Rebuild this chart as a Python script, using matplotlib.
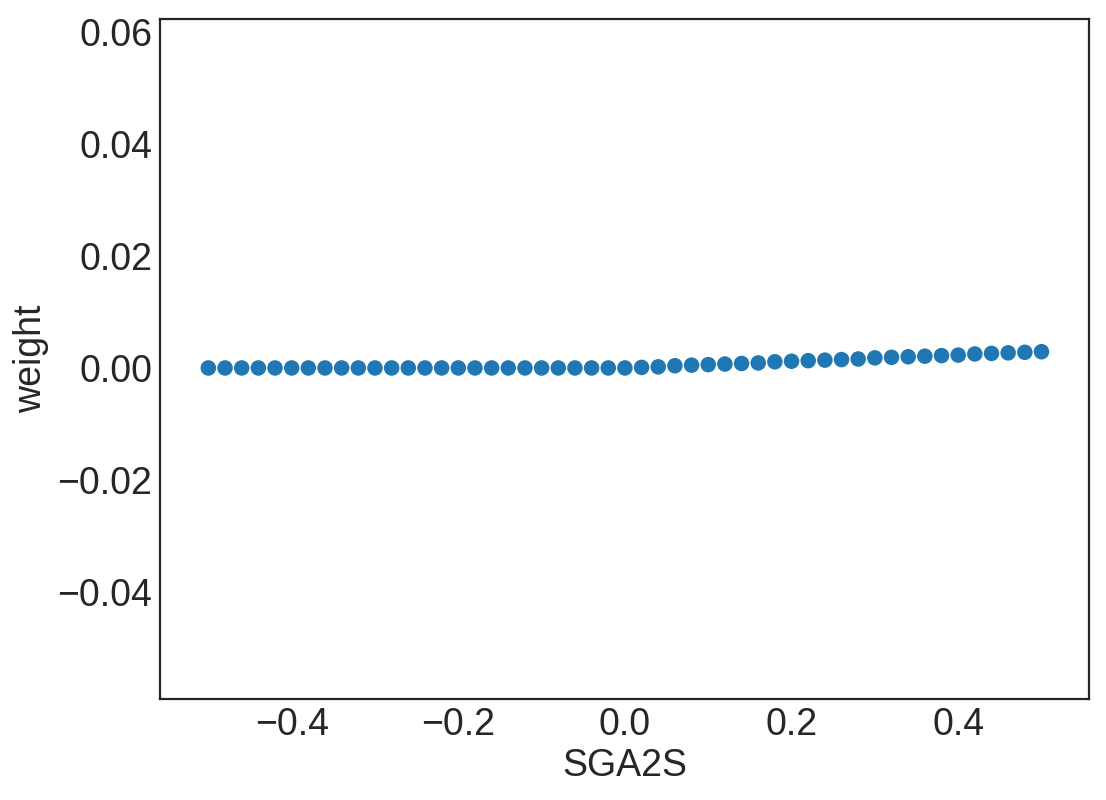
import numpy as np
import matplotlib.pyplot as plt
import seaborn as sns

sns.set_style("white")
plt.rcParams['font.family'] = ['Liberation Sans', 'DejaVu Sans']

# SGA2S grid and weights
sga2s = np.round(np.arange(-0.5, 0.5001, 0.02), 2)
weight_neg = [0.0] * 25
weight_pos = [0.0, 0.0001, 0.0002, 0.0004, 0.0005, 0.0006, 0.0007, 0.0008,
              0.0009, 0.0011, 0.0012, 0.0013, 0.0014, 0.0015, 0.0016, 0.0018,
              0.0019, 0.0020, 0.0021, 0.0022, 0.0023, 0.0025, 0.0026, 0.0027,
              0.0028, 0.0029]
weight = np.array(weight_neg + weight_pos)

fig = plt.figure(figsize=(11.06, 8), dpi=100)
ax = fig.add_axes([0.1447, 0.12625, 0.8399, 0.85])
ax.scatter(sga2s, weight, s=125, color='#1f77b4', edgecolors='none')

ax.set_xlim(-0.558, 0.557)
ax.set_ylim(-0.0591, 0.0623)
ax.set_xticks([-0.4, -0.2, 0.0, 0.2, 0.4])
ax.set_yticks([-0.04, -0.02, 0.0, 0.02, 0.04, 0.06])
ax.tick_params(labelsize=27, colors='#262626', pad=2)
ax.set_xlabel('SGA2S', fontsize=27, color='#262626', labelpad=4)
ax.set_ylabel('weight', fontsize=27, color='#262626', labelpad=6)
for sp in ax.spines.values():
    sp.set_linewidth(1.6)
    sp.set_color('#262626')

fig.savefig('out.png', dpi=100)
